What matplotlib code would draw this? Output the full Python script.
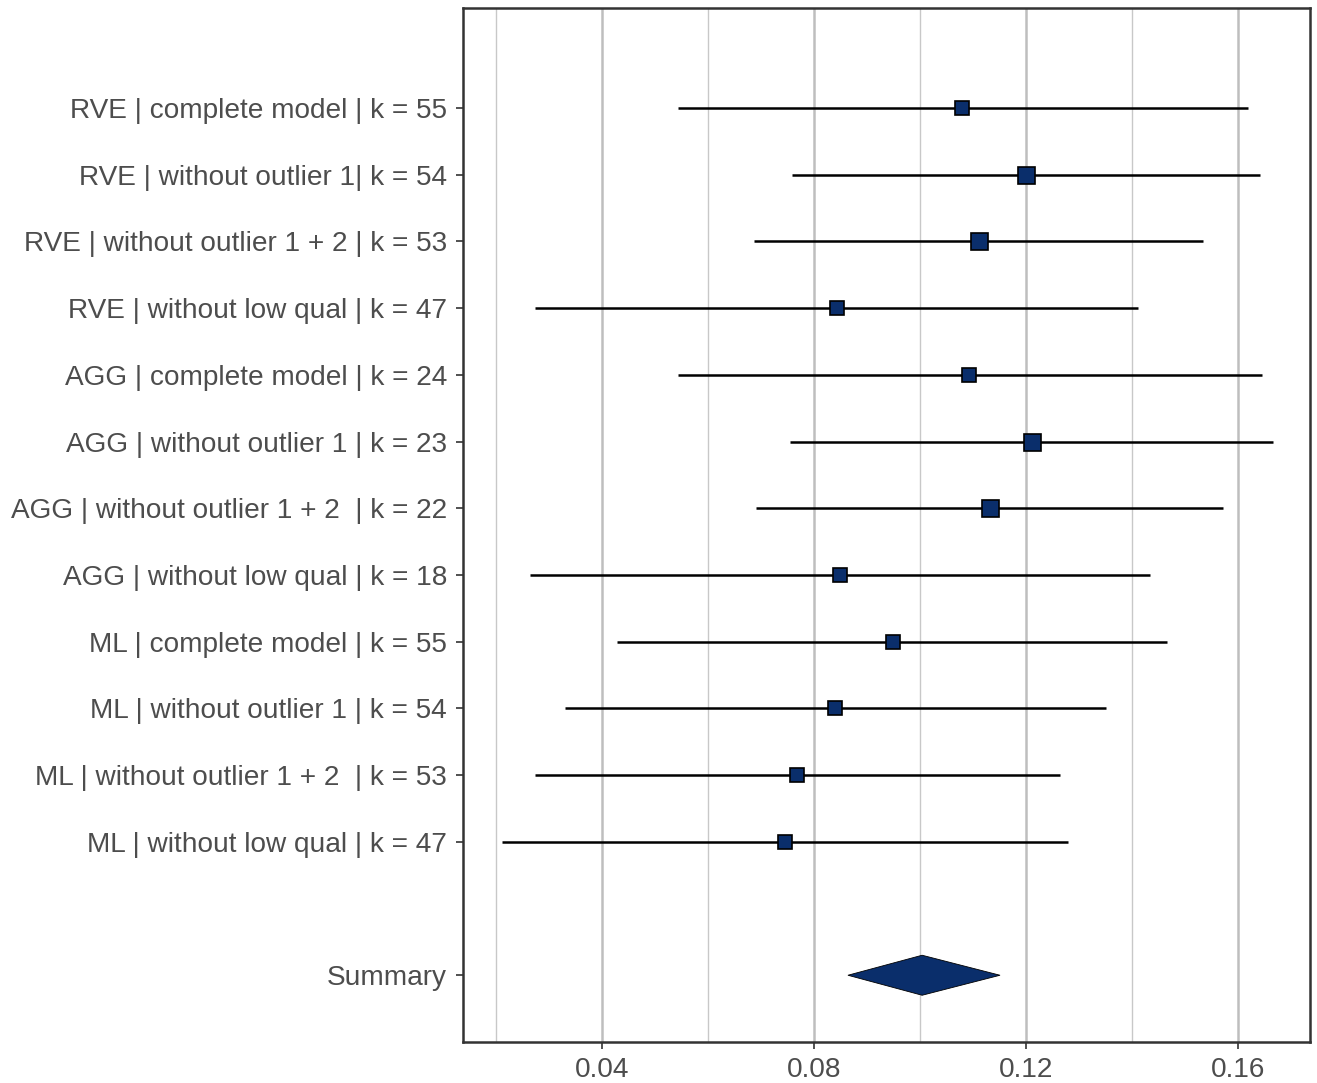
import matplotlib
matplotlib.use("Agg")
import matplotlib.pyplot as plt
import numpy as np
from matplotlib.patches import Polygon

plt.rcParams['font.family'] = ['Liberation Sans', 'DejaVu Sans']

labels = [
    "RVE | complete model | k = 55",
    "RVE | without outlier 1| k = 54",
    "RVE | without outlier 1 + 2 | k = 53",
    "RVE | without low qual | k = 47",
    "AGG | complete model | k = 24",
    "AGG | without outlier 1 | k = 23",
    "AGG | without outlier 1 + 2  | k = 22",
    "AGG | without low qual | k = 18",
    "ML | complete model | k = 55",
    "ML | without outlier 1 | k = 54",
    "ML | without outlier 1 + 2  | k = 53",
    "ML | without low qual | k = 47",
]
est = [0.1079, 0.1200, 0.1111, 0.0843, 0.1092, 0.1211, 0.1132, 0.0849, 0.0949, 0.0840, 0.0768, 0.0745]
lower = [0.0543, 0.0758, 0.0687, 0.0274, 0.0543, 0.0755, 0.0691, 0.0264, 0.0428, 0.0330, 0.0274, 0.0211]
upper = [0.1619, 0.1642, 0.1534, 0.1411, 0.1645, 0.1666, 0.1572, 0.1434, 0.1466, 0.1351, 0.1264, 0.1279]
weight = [14, 17, 17, 14, 14, 17, 17, 14, 14, 14, 14, 14]

summary_label = "Summary"
summary_est = 0.1004
summary_lo = 0.0864
summary_hi = 0.1151

navy = "#0A2E6B"
txt = "#4D4D4D"

fig = plt.figure(figsize=(13.17, 10.83), dpi=100)
ax = fig.add_axes([0.3516, 0.0379, 0.6431, 0.9547])

ypos = np.arange(1, len(labels) + 1)
sum_y = len(labels) + 2

# grid
for x in [0.02, 0.06, 0.10, 0.14]:
    ax.axvline(x, color="#c8c8c8", lw=1.0, zorder=0)
for x in [0.04, 0.08, 0.12, 0.16]:
    ax.axvline(x, color="#bebebe", lw=1.8, zorder=0)

ax.hlines(ypos, lower, upper, color="black", lw=1.8, zorder=2)
for y, e, w in zip(ypos, est, weight):
    ax.plot(e, y, marker="s", ms=w * 0.72, mfc=navy, mec="black", mew=1.2, zorder=3)

h = 0.3
diamond = Polygon([[summary_lo, sum_y], [summary_est, sum_y - h],
                   [summary_hi, sum_y], [summary_est, sum_y + h]],
                  closed=True, fc=navy, ec="black", lw=0.6, zorder=3)
ax.add_patch(diamond)

ax.set_xlim(0.01377, 0.1736)
ax.set_ylim(15, -0.5)
ax.set_xticks([0.04, 0.08, 0.12, 0.16])
ax.set_xticklabels(["0.04", "0.08", "0.12", "0.16"])
ax.set_yticks(list(ypos) + [sum_y])
ax.set_yticklabels(labels + [summary_label])
ax.tick_params(axis="both", labelsize=20.2, colors="#333333", labelcolor=txt,
               length=5, width=1.2)
ax.tick_params(axis="y", pad=6.5)
ax.tick_params(axis="x", pad=6)

for s in ax.spines.values():
    s.set_color("#333333")
    s.set_linewidth(1.8)

fig.savefig("out.png", dpi=100)
